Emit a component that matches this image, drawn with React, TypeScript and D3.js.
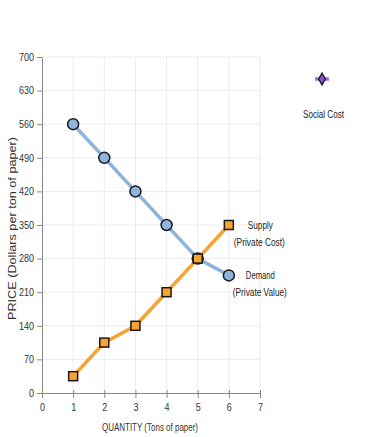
import { useEffect, useRef } from 'react'
import * as d3 from 'd3'

const quantities = [1, 2, 3, 4, 5, 6]
const demandPrices = [560, 490, 420, 350, 280, 245]
const supplyPrices = [35, 105, 140, 210, 280, 350]
const xTicks = [0, 1, 2, 3, 4, 5, 6, 7]
const yTicks = [0, 70, 140, 210, 280, 350, 420, 490, 560, 630, 700]

const FONT = '"Liberation Sans", Arial, sans-serif'

export default function App() {
  const svgRef = useRef<SVGSVGElement>(null)

  useEffect(() => {
    if (!svgRef.current) return
    document.body.style.margin = '0'
    const svg = d3.select(svgRef.current)
    svg.selectAll('*').remove()

    const x = d3.scaleLinear().domain([0, 7]).range([42, 260])
    const y = d3.scaleLinear().domain([0, 700]).range([393, 57])

    // grid
    const grid = svg.append('g')
    grid.selectAll('line.v')
      .data(xTicks.slice(1))
      .join('line')
      .attr('class', 'v')
      .attr('x1', d => x(d)).attr('x2', d => x(d))
      .attr('y1', y(700)).attr('y2', y(0))
      .attr('stroke', '#ececec')
    grid.selectAll('line.h')
      .data(yTicks.slice(1))
      .join('line')
      .attr('class', 'h')
      .attr('x1', x(0)).attr('x2', x(7))
      .attr('y1', d => y(d)).attr('y2', d => y(d))
      .attr('stroke', '#ececec')

    // axes
    const xAxis = svg.append('g')
      .attr('transform', `translate(0,${y(0)})`)
      .call(d3.axisBottom(x).tickValues(xTicks).tickFormat(d3.format('d')).tickSize(5).tickSizeOuter(0).tickPadding(6))
    xAxis.select('.domain').attr('stroke', '#888')
    xAxis.selectAll('.tick line').attr('stroke', '#888').attr('y1', -3)
    xAxis.selectAll('.tick text')
      .attr('font-family', FONT).attr('font-size', 10.5).attr('fill', '#333')
      .attr('textLength', 5).attr('lengthAdjust', 'spacingAndGlyphs')

    const yAxis = svg.append('g')
      .attr('transform', `translate(${x(0)},0)`)
      .call(d3.axisLeft(y).tickValues(yTicks).tickSize(5).tickSizeOuter(0).tickPadding(3))
    yAxis.select('.domain').attr('stroke', '#888')
    yAxis.selectAll('.tick line').attr('stroke', '#888')
    yAxis.selectAll<SVGTextElement, number>('.tick text')
      .attr('font-family', FONT).attr('font-size', 10.5).attr('fill', '#333')
      .attr('textLength', d => String(d).length * 5)
      .attr('lengthAdjust', 'spacingAndGlyphs')

    // axis titles
    svg.append('text')
      .attr('x', 102)
      .attr('y', 431)
      .attr('textLength', 96)
      .attr('lengthAdjust', 'spacingAndGlyphs')
      .attr('font-family', FONT)
      .attr('font-size', 10)
      .attr('fill', '#333')
      .text('QUANTITY (Tons of paper)')

    svg.append('text')
      .attr('transform', 'translate(15.5,320) rotate(-90)')
      .attr('textLength', 183)
      .attr('lengthAdjust', 'spacingAndGlyphs')
      .attr('font-family', FONT)
      .attr('font-size', 10)
      .attr('fill', '#333')
      .text('PRICE (Dollars per ton of paper)')

    const line = d3.line<[number, number]>()
      .x(d => x(d[0]))
      .y(d => y(d[1]))

    const demand = quantities.map((q, i) => [q, demandPrices[i]] as [number, number])
    const supply = quantities.map((q, i) => [q, supplyPrices[i]] as [number, number])

    // demand
    svg.append('path')
      .datum(demand)
      .attr('fill', 'none')
      .attr('stroke', '#8fb4d9')
      .attr('stroke-width', 3.5)
      .attr('d', line)

    // supply
    svg.append('path')
      .datum(supply)
      .attr('fill', 'none')
      .attr('stroke', '#f7a331')
      .attr('stroke-width', 3.5)
      .attr('d', line)

    svg.append('g').selectAll('circle')
      .data(demand)
      .join('circle')
      .attr('cx', d => x(d[0]))
      .attr('cy', d => y(d[1]))
      .attr('r', 5.5)
      .attr('fill', '#8fb4e0')
      .attr('stroke', '#1a1a1a')
      .attr('stroke-width', 1.5)

    svg.append('g').selectAll('rect')
      .data(supply)
      .join('rect')
      .attr('x', d => x(d[0]) - 4.5)
      .attr('y', d => y(d[1]) - 4.5)
      .attr('width', 9)
      .attr('height', 9)
      .attr('fill', '#f7a331')
      .attr('stroke', '#1a1a1a')
      .attr('stroke-width', 1.5)

    // curve labels
    const labels = [
      { t: 'Supply', px: 6, py: 350, dx: 19, dy: 4, w: 25 },
      { t: '(Private Cost)', px: 6, py: 350, dx: 5, dy: 21, w: 51 },
      { t: 'Demand', px: 6, py: 245, dx: 17, dy: 4, w: 29 },
      { t: '(Private Value)', px: 6, py: 245, dx: 4, dy: 21, w: 54 },
    ]
    svg.append('g').selectAll('text')
      .data(labels)
      .join('text')
      .attr('x', d => x(d.px) + d.dx)
      .attr('y', d => y(d.py) + d.dy)
      .attr('textLength', d => d.w)
      .attr('lengthAdjust', 'spacingAndGlyphs')
      .attr('font-family', FONT)
      .attr('font-size', 10)
      .attr('fill', '#222')
      .text(d => d.t)

    // social cost legend
    const lg = svg.append('g').attr('transform', 'translate(322,79)')
    lg.append('line')
      .attr('x1', -7).attr('x2', 7)
      .attr('stroke', '#a070d8')
      .attr('stroke-width', 3.5)
    lg.append('path')
      .attr('d', d3.symbol(d3.symbolDiamond, 40)())
      .attr('fill', '#8a4fcf')
      .attr('stroke', '#1a1a1a')
      .attr('stroke-width', 1.3)
    lg.append('text')
      .attr('x', -19)
      .attr('y', 39)
      .attr('textLength', 41)
      .attr('lengthAdjust', 'spacingAndGlyphs')
      .attr('font-family', FONT)
      .attr('font-size', 10)
      .attr('fill', '#222')
      .text('Social Cost')
  }, [])

  return (
    <div style={{ position: 'absolute', left: 0, top: 0 }}>
      <svg ref={svgRef} width={368} height={437} style={{ display: 'block', background: '#fff' }} />
    </div>
  )
}
